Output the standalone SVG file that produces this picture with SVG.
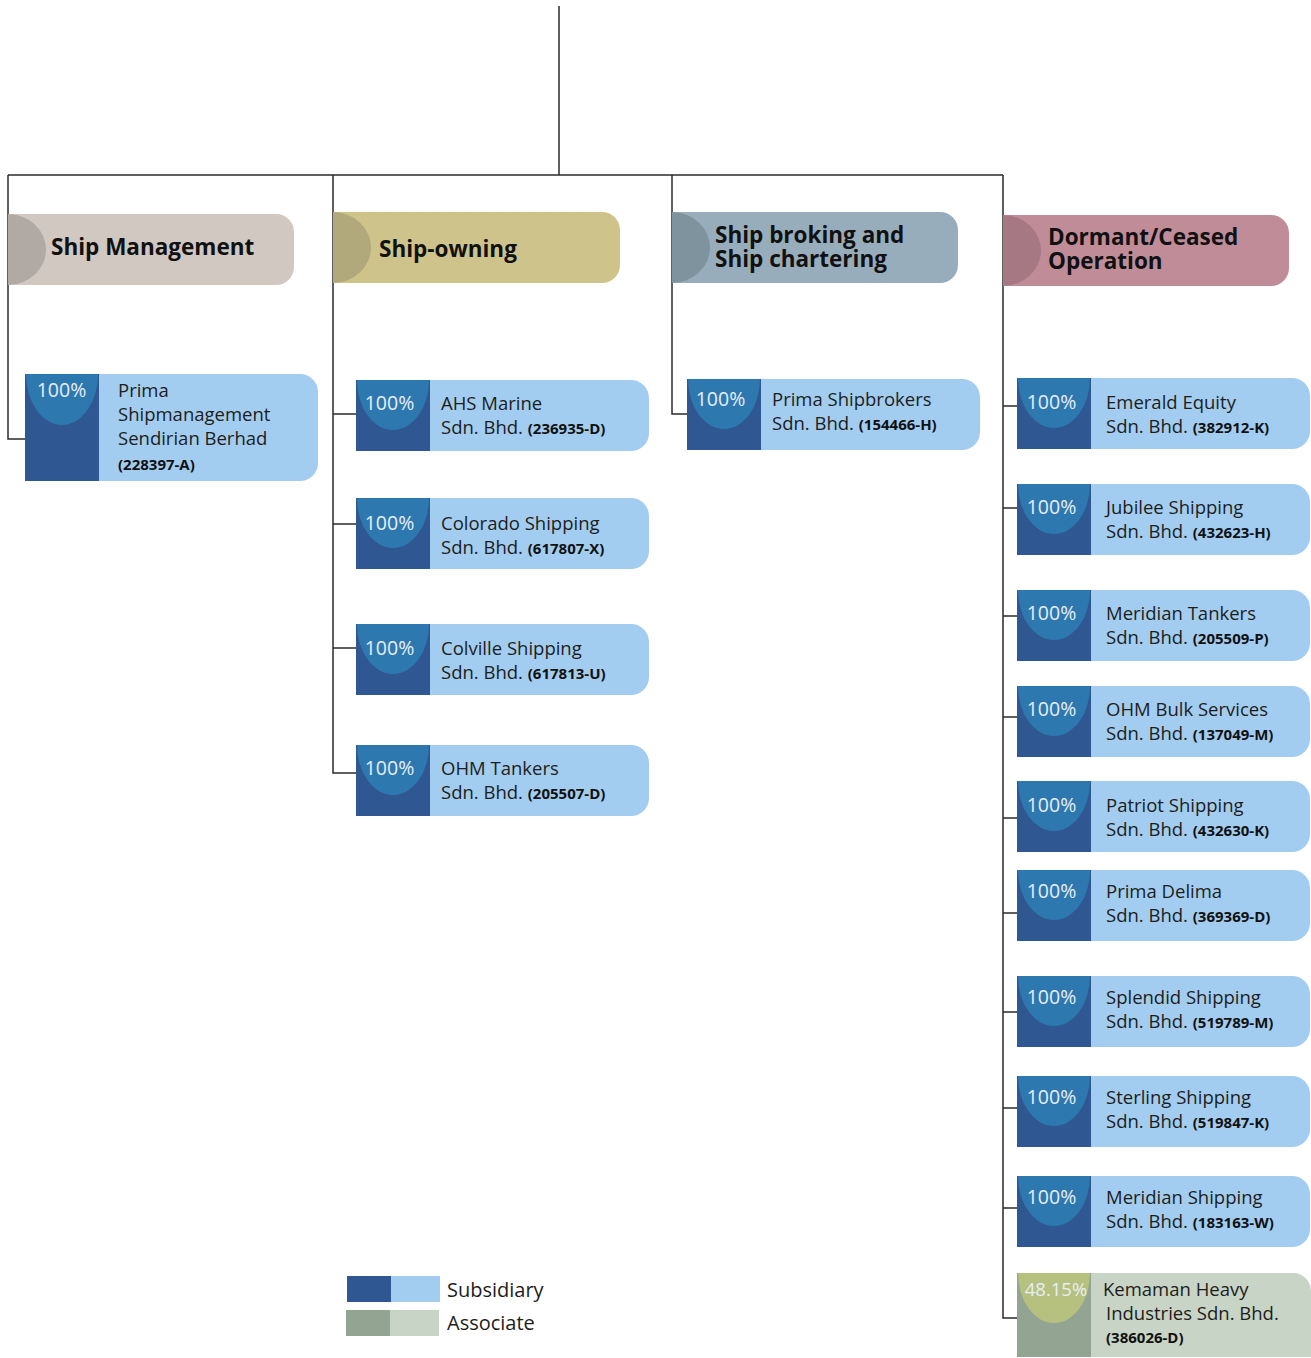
<svg xmlns="http://www.w3.org/2000/svg" xmlns:xlink="http://www.w3.org/1999/xlink" width="1311" height="1358" viewBox="0 0 1311 1358">
<style>
.ln{fill:none;stroke:#2b2b2b;stroke-width:1.5}
.hd{font-family:"Open Sans","Noto Sans","Liberation Sans",sans-serif;font-weight:bold;font-size:22.5px;fill:#111}
.nm{font-family:"Open Sans","Noto Sans","Liberation Sans",sans-serif;font-size:18.5px;fill:#1d1d1b}
.cd{font-family:"Open Sans","Noto Sans","Liberation Sans",sans-serif;font-size:15px;font-weight:bold;fill:#111}
.pc{font-family:"Open Sans","Noto Sans","Liberation Sans",sans-serif;font-size:19.5px;fill:#e6eef7;text-anchor:middle}
.lg{font-family:"Open Sans","Noto Sans","Liberation Sans",sans-serif;font-size:20px;fill:#1d1d1b}
.sl{fill:#a3cdf0}.sd{fill:#2f5791}.sc{fill:#2e78b0}
.al{fill:#c8d4c6}.ad{fill:#93a592}.ac{fill:#b6c07f}
</style>
<defs>
<g id="sub">
<path class="sl" d="M0,0H275A18,18 0 0 1 293,18V53A18,18 0 0 1 275,71H0Z"/>
<rect class="sd" x="0" y="0" width="74" height="71"/>
<path class="sc" d="M1,0A36,50 0 0 0 73,0Z"/>
</g>
</defs>

<g id="connectors">
<path class="ln" d="M559,6V175M8,175H1003"/>
<path class="ln" d="M8,175V439H25"/>
<path class="ln" d="M333,175V773H356M333,414H356M333,524H356M333,648H356"/>
<path class="ln" d="M672,175V414H687"/>
<path class="ln" d="M1003,175V1318H1017M1003,406H1017M1003,508H1017M1003,616H1017M1003,717H1017M1003,818H1017M1003,913H1017M1003,1012H1017M1003,1108H1017M1003,1208H1017"/>
</g>

<g id="hdr-ship-management">
<path fill="#d0c8c1" d="M8,214H276A18,18 0 0 1 294,232V267A18,18 0 0 1 276,285H8Z"/>
<path fill="#b1a9a4" d="M8,214A38,35.5 0 0 1 8,285Z"/>
<text class="hd" x="51" y="255">Ship Management</text>
</g>
<g id="hdr-ship-owning">
<path fill="#cec48b" d="M333,212H602A18,18 0 0 1 620,230V265A18,18 0 0 1 602,283H333Z"/>
<path fill="#b1a97b" d="M333,212A38,35.5 0 0 1 333,283Z"/>
<text class="hd" x="379" y="257">Ship-owning</text>
</g>
<g id="hdr-ship-broking">
<path fill="#98adbb" d="M672,212H940A18,18 0 0 1 958,230V265A18,18 0 0 1 940,283H672Z"/>
<path fill="#7f939f" d="M672,212A38,35.5 0 0 1 672,283Z"/>
<text class="hd" x="715" y="243">Ship broking and</text>
<text class="hd" x="715" y="267">Ship chartering</text>
</g>
<g id="hdr-dormant">
<path fill="#c08c98" d="M1003,215H1271A18,18 0 0 1 1289,233V268A18,18 0 0 1 1271,286H1003Z"/>
<path fill="#a57883" d="M1003,215A38,35.5 0 0 1 1003,286Z"/>
<text class="hd" x="1048" y="245">Dormant/Ceased</text>
<text class="hd" x="1048" y="269">Operation</text>
</g>

<g id="prima-shipmanagement">
<path class="sl" d="M25,374H300A18,18 0 0 1 318,392V463A18,18 0 0 1 300,481H25Z"/>
<rect class="sd" x="25" y="374" width="74" height="107"/>
<path class="sc" d="M26,374A36,51 0 0 0 98,374Z"/>
<text class="pc" x="61.5" y="397">100%</text>
<text class="nm" x="118" y="397">Prima</text>
<text class="nm" x="118" y="421">Shipmanagement</text>
<text class="nm" x="118" y="445">Sendirian Berhad</text>
<text class="cd" x="118" y="470">(228397-A)</text>
</g>

<g id="ahs-marine">
<use xlink:href="#sub" x="356" y="380"/>
<text class="pc" x="389.5" y="410">100%</text>
<text class="nm" x="441" y="410">AHS Marine</text>
<text class="nm" x="441" y="434">Sdn. Bhd. <tspan class="cd">(236935-D)</tspan></text>
</g>
<g id="colorado-shipping">
<use xlink:href="#sub" x="356" y="498"/>
<text class="pc" x="389.5" y="530">100%</text>
<text class="nm" x="441" y="530">Colorado Shipping</text>
<text class="nm" x="441" y="554">Sdn. Bhd. <tspan class="cd">(617807-X)</tspan></text>
</g>
<g id="colville-shipping">
<use xlink:href="#sub" x="356" y="624"/>
<text class="pc" x="389.5" y="655">100%</text>
<text class="nm" x="441" y="655">Colville Shipping</text>
<text class="nm" x="441" y="679">Sdn. Bhd. <tspan class="cd">(617813-U)</tspan></text>
</g>
<g id="ohm-tankers">
<use xlink:href="#sub" x="356" y="745"/>
<text class="pc" x="389.5" y="775">100%</text>
<text class="nm" x="441" y="775">OHM Tankers</text>
<text class="nm" x="441" y="799">Sdn. Bhd. <tspan class="cd">(205507-D)</tspan></text>
</g>

<g id="prima-shipbrokers">
<use xlink:href="#sub" x="687" y="379"/>
<text class="pc" x="720.5" y="406">100%</text>
<text class="nm" x="772" y="406">Prima Shipbrokers</text>
<text class="nm" x="772" y="430">Sdn. Bhd. <tspan class="cd">(154466-H)</tspan></text>
</g>

<g id="emerald-equity">
<use xlink:href="#sub" x="1017" y="378"/>
<text class="pc" x="1051.5" y="409">100%</text>
<text class="nm" x="1106" y="409">Emerald Equity</text>
<text class="nm" x="1106" y="433">Sdn. Bhd. <tspan class="cd">(382912-K)</tspan></text>
</g>
<g id="jubilee-shipping">
<use xlink:href="#sub" x="1017" y="484"/>
<text class="pc" x="1051.5" y="514">100%</text>
<text class="nm" x="1106" y="514">Jubilee Shipping</text>
<text class="nm" x="1106" y="538">Sdn. Bhd. <tspan class="cd">(432623-H)</tspan></text>
</g>
<g id="meridian-tankers">
<use xlink:href="#sub" x="1017" y="590"/>
<text class="pc" x="1051.5" y="620">100%</text>
<text class="nm" x="1106" y="620">Meridian Tankers</text>
<text class="nm" x="1106" y="644">Sdn. Bhd. <tspan class="cd">(205509-P)</tspan></text>
</g>
<g id="ohm-bulk-services">
<use xlink:href="#sub" x="1017" y="686"/>
<text class="pc" x="1051.5" y="716">100%</text>
<text class="nm" x="1106" y="716">OHM Bulk Services</text>
<text class="nm" x="1106" y="740">Sdn. Bhd. <tspan class="cd">(137049-M)</tspan></text>
</g>
<g id="patriot-shipping">
<use xlink:href="#sub" x="1017" y="781"/>
<text class="pc" x="1051.5" y="812">100%</text>
<text class="nm" x="1106" y="812">Patriot Shipping</text>
<text class="nm" x="1106" y="836">Sdn. Bhd. <tspan class="cd">(432630-K)</tspan></text>
</g>
<g id="prima-delima">
<use xlink:href="#sub" x="1017" y="870"/>
<text class="pc" x="1051.5" y="898">100%</text>
<text class="nm" x="1106" y="898">Prima Delima</text>
<text class="nm" x="1106" y="922">Sdn. Bhd. <tspan class="cd">(369369-D)</tspan></text>
</g>
<g id="splendid-shipping">
<use xlink:href="#sub" x="1017" y="976"/>
<text class="pc" x="1051.5" y="1004">100%</text>
<text class="nm" x="1106" y="1004">Splendid Shipping</text>
<text class="nm" x="1106" y="1028">Sdn. Bhd. <tspan class="cd">(519789-M)</tspan></text>
</g>
<g id="sterling-shipping">
<use xlink:href="#sub" x="1017" y="1076"/>
<text class="pc" x="1051.5" y="1104">100%</text>
<text class="nm" x="1106" y="1104">Sterling Shipping</text>
<text class="nm" x="1106" y="1128">Sdn. Bhd. <tspan class="cd">(519847-K)</tspan></text>
</g>
<g id="meridian-shipping">
<use xlink:href="#sub" x="1017" y="1176"/>
<text class="pc" x="1051.5" y="1204">100%</text>
<text class="nm" x="1106" y="1204">Meridian Shipping</text>
<text class="nm" x="1106" y="1228">Sdn. Bhd. <tspan class="cd">(183163-W)</tspan></text>
</g>
<g id="kemaman-heavy-industries">
<path class="al" d="M1017,1273H1293A18,18 0 0 1 1311,1291V1357H1017Z"/>
<rect class="ad" x="1017" y="1273" width="74" height="84"/>
<path class="ac" d="M1018,1273A36,50 0 0 0 1090,1273Z"/>
<text class="pc" x="1056" y="1296" style="font-size:18.5px">48.15%</text>
<text class="nm" x="1103" y="1296">Kemaman Heavy</text>
<text class="nm" x="1106" y="1320">Industries Sdn. Bhd.</text>
<text class="cd" x="1106" y="1343">(386026-D)</text>
</g>

<g id="legend">
<rect class="sd" x="347" y="1276" width="44" height="26"/>
<rect class="sl" x="391" y="1276" width="49" height="26"/>
<rect class="ad" x="346" y="1310" width="44" height="26"/>
<rect class="al" x="390" y="1310" width="49" height="26"/>
<text class="lg" x="447" y="1297">Subsidiary</text>
<text class="lg" x="447" y="1330">Associate</text>
</g>
</svg>
